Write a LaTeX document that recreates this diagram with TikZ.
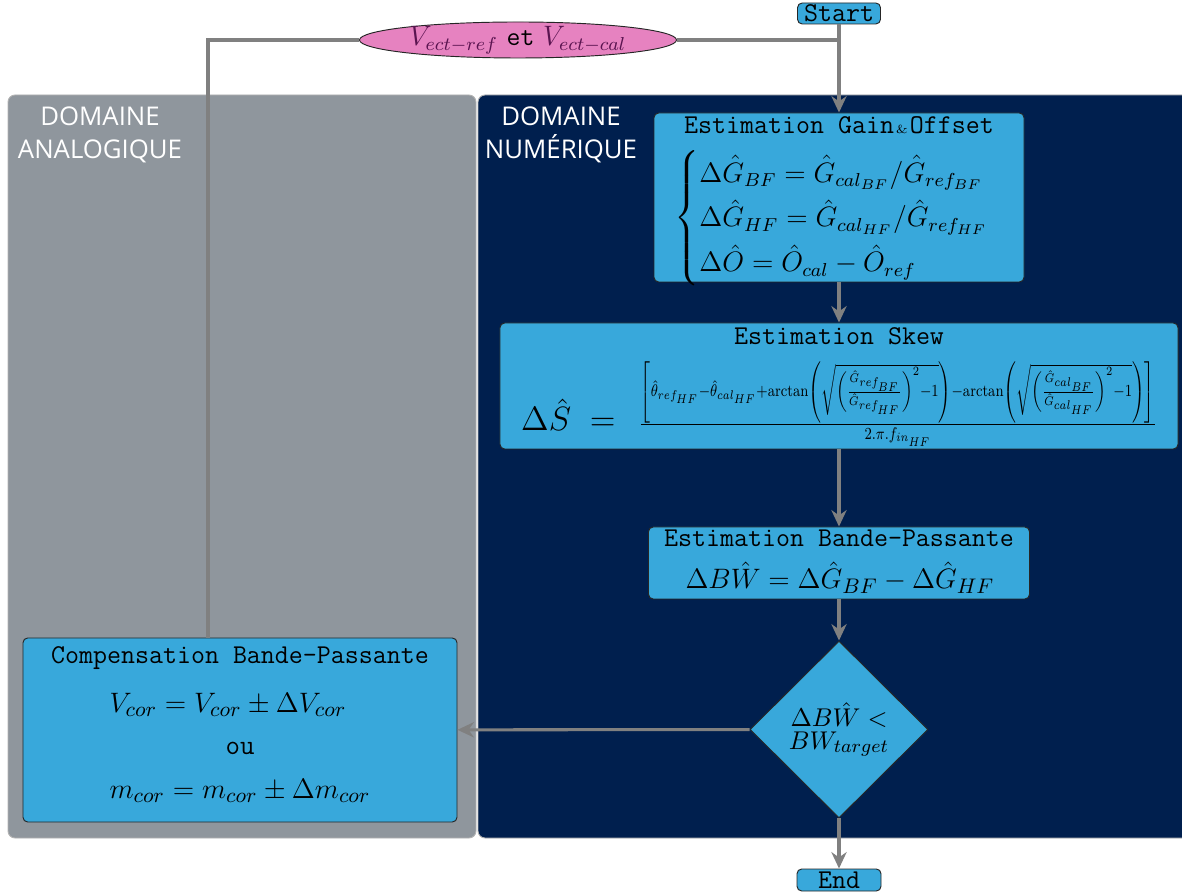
\documentclass[tikz,border=0pt]{standalone}
\usepackage{amsmath}
\usepackage{graphicx}
\usepackage{fontspec}
\newfontfamily\fontdominio{Open Sans}
\usetikzlibrary{shapes.geometric,arrows.meta}
\definecolor{azulbloco}{RGB}{56,168,219}
\definecolor{marinho}{RGB}{0,31,78}
\definecolor{cinzadom}{RGB}{143,150,157}
\definecolor{rosa}{RGB}{230,130,192}
\definecolor{violeta}{RGB}{90,20,80}

\begin{document}
\begin{tikzpicture}[x=0.015cm, y=-0.015cm,
    bloco/.style={draw=black!85, fill=azulbloco, rounded corners=2pt, inner sep=0pt},
    titulo/.style={font=\fontsize{11.6}{13}\ttfamily, inner sep=0pt},
    formula/.style={font=\fontsize{12.5}{15}\selectfont, inner sep=0pt},
    linha/.style={draw=gray, line width=1.3pt},
    seta/.style={linha, -{Stealth[length=7pt,width=6.5pt]}},
    dominio/.style={font=\fontdominio\fontsize{11}{14}\selectfont, text=white, align=center, inner sep=0pt}]
    \useasboundingbox (0,0) rectangle (1182,895);
    % Domaines analogique / numerique
    \filldraw[fill=cinzadom, draw=gray!60, rounded corners=3pt] (8,95) rectangle (476,838);
    \filldraw[fill=marinho, draw=gray!60, rounded corners=3pt] (478,95) rectangle (1192,838);
    \node[dominio] (tanalog) at (100,135) {DOMAINE\\ANALOGIQUE};
    \node[dominio] (tnumer) at (561,135) {DOMAINE\\NUMÉRIQUE};
    \node[bloco, titulo, minimum width=1.245cm, minimum height=0.315cm] (inicio) at (839,13.5) {Start};
    \node[ellipse, draw=black!85, fill=rosa, minimum width=4.755cm, minimum height=0.54cm, inner sep=0pt, text height=6pt, text depth=1pt, font=\fontsize{11.5}{14}\selectfont, text=violeta] (vetores) at (518,40) {$V_{ect-ref}$ \textcolor{black}{\texttt{et}} $V_{ect-cal}$};
    % Gain et offset
    \node[bloco, minimum width=5.55cm, minimum height=2.535cm] (ganho) at (839,197.5) {};
    \node[titulo] (tganho) at (839,125) {Estimation Gain{\tiny\rmfamily\,\&\,}Offset};
    \node[formula, font=\large, anchor=west] (eqganho) at (674,218) {$\renewcommand{\arraystretch}{1.37}\left\{\begin{array}{@{}l@{}}
        \Delta\hat{G}_{BF}=\hat{G}_{cal_{BF}}/\hat{G}_{ref_{BF}}\\
        \Delta\hat{G}_{HF}=\hat{G}_{cal_{HF}}/\hat{G}_{ref_{HF}}\\
        \Delta\hat{O}=\hat{O}_{cal}-\hat{O}_{ref}
        \end{array}\right.$};
    % Skew
    \node[bloco, minimum width=10.17cm, minimum height=1.89cm] (skew) at (839,386) {};
    \node[titulo] (tskew) at (839,336) {Estimation Skew};
    \node[inner sep=0pt] (eqskew) at (839,404) {{\Large$\Delta\hat{S}\;=\;$}\hspace{6pt}\resizebox*{221pt}{36pt}{\large$\frac{\left[\hat{\theta}_{ref_{HF}}-\hat{\theta}_{cal_{HF}}+\arctan\left(\sqrt{\left(\frac{\hat{G}_{ref_{BF}}}{\hat{G}_{ref_{HF}}}\right)^{2}-1}\right)-\arctan\left(\sqrt{\left(\frac{\hat{G}_{cal_{BF}}}{\hat{G}_{cal_{HF}}}\right)^{2}-1}\right)\right]}{2.\pi.f_{in_{HF}}}$}};
    % Bande passante
    \node[bloco, minimum width=5.715cm, minimum height=1.08cm] (banda) at (839,563) {};
    \node[titulo] (tbanda) at (839,538) {Estimation Bande-Passante};
    \node[formula] (eqbanda) at (840,578) {$\Delta B\hat{W}=\Delta\hat{G}_{BF}-\Delta\hat{G}_{HF}$};
    \node[diamond, draw=black!85, fill=azulbloco, minimum width=2.67cm, minimum height=2.655cm, inner sep=0pt, align=center, font=\fontsize{11}{9.5}\selectfont] (decisao) at (839,729.5) {$\Delta B\hat{W}<$\\$BW_{target}$};
    \node[bloco, titulo, minimum width=1.26cm, minimum height=0.33cm] (fim) at (839,880) {End};
    % Compensation
    \node[bloco, minimum width=6.51cm, minimum height=2.76cm] (compensacao) at (240,730) {};
    \node[titulo] (tcomp) at (240,658) {Compensation Bande-Passante};
    \node[formula] (eqv) at (228,705) {$V_{cor}=V_{cor}\pm\Delta V_{cor}$};
    \node[font=\large\ttfamily, inner sep=0pt] (ou) at (240,748) {ou};
    \node[formula] (eqm) at (240,791) {$m_{cor}=m_{cor}\pm\Delta m_{cor}$};
    % Liaisons
    \coordinate (juncao) at (vetores.east -| inicio.south);
    \coordinate (retorno) at (208,638);
    \draw[seta] (inicio) -- (ganho);
    \draw[linha] (juncao) -- (vetores.east);
    \draw[linha] (retorno) |- (vetores.west);
    \draw[seta] (ganho) -- (skew);
    \draw[seta] (skew) -- (banda);
    \draw[seta] (banda) -- (decisao);
    \draw[seta] (decisao) -- (compensacao);
    \draw[seta] (decisao) -- (fim);
\end{tikzpicture}
\end{document}
